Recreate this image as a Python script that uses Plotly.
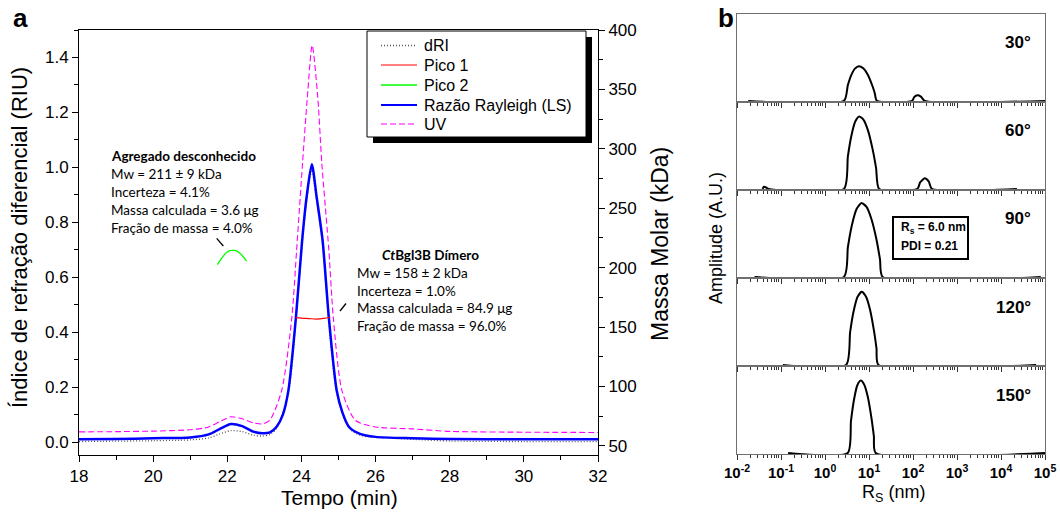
import plotly.graph_objects as go

W, H = 1060, 513
def px(x): return x / W
def py(y): return 1 - y / H

# ---------------- Panel a data ----------------
t_ls = [18.0, 19.0, 20.0, 21.0, 21.5, 21.8, 22.1, 22.4, 22.7, 22.95, 23.15, 23.33, 23.5, 23.65, 23.85,
        24.02, 24.14, 24.28, 24.41, 24.57, 24.74, 24.95, 25.1, 25.28, 25.58, 26.0, 27.0, 28.0, 30.0, 32.0]
ls = [0.010, 0.011, 0.014, 0.017, 0.028, 0.048, 0.066, 0.058, 0.038, 0.032, 0.035, 0.056, 0.10, 0.189, 0.452,
      0.735, 0.892, 1.011, 0.892, 0.735, 0.452, 0.189, 0.11, 0.056, 0.030, 0.019, 0.014, 0.011, 0.010, 0.010]

t_uv = [18.0, 19.0, 20.0, 21.0, 21.5, 21.8, 22.1, 22.4, 22.7, 22.95, 23.15, 23.47, 23.74, 23.87, 24.03,
        24.16, 24.29, 24.44, 24.55, 24.74, 24.86, 25.09, 25.45, 26.0, 27.0, 28.0, 30.0, 32.0]
uv = [0.037, 0.038, 0.040, 0.045, 0.055, 0.075, 0.092, 0.085, 0.070, 0.066, 0.080, 0.189, 0.452, 0.698, 1.015,
      1.256, 1.444, 1.256, 1.015, 0.698, 0.452, 0.189, 0.080, 0.055, 0.048, 0.039, 0.036, 0.035]

t_dri = [18.0, 20.0, 21.0, 21.5, 21.8, 22.1, 22.4, 22.7, 22.95, 23.15, 23.33, 23.65, 23.85, 24.02, 24.14,
         24.28, 24.41, 24.57, 24.74, 24.95, 25.28, 25.58, 25.8, 26.0, 27.0, 28.0, 30.0, 32.0]
dri = [0.002, 0.005, 0.008, 0.015, 0.030, 0.042, 0.038, 0.025, 0.022, 0.028, 0.050, 0.180, 0.440, 0.720, 0.880,
       0.990, 0.880, 0.720, 0.440, 0.180, 0.050, 0.025, 0.019, 0.017, 0.010, 0.004, 0.002, 0.002]

t_p1 = [23.85, 24.0, 24.2, 24.4, 24.6, 24.78]
mw_p1 = [158.0, 157.6, 157.2, 156.8, 157.3, 158.3]

t_p2 = [21.73, 21.85, 21.97, 22.07, 22.15, 22.23, 22.35, 22.45, 22.52]
mw_p2 = [202.5, 208.0, 212.5, 214.3, 214.5, 214.3, 212.0, 208.5, 205.6]

x_ticks_a = [18, 20, 22, 24, 26, 28, 30, 32]
legend_names = ["dRI", "Pico 1", "Pico 2", "Razão Rayleigh (LS)", "UV"]

# ---------------- Panel b data ----------------
angles = ["30°", "60°", "90°", "120°", "150°"]
rs_30 = [0.018, 2.69, 3.31, 3.98, 4.79, 5.89, 7.41, 9.33, 11.7, 13.5, 15.1, 95.5, 107, 126, 151, 186, 100000]
amp_30 = [0, 0, 0.22, 0.36, 0.446, 0.48, 0.45, 0.366, 0.223, 0.11, 0, 0, 0.055, 0.078, 0.06, 0, 0]
rs_60 = [0.038, 0.041, 0.046, 0.052, 2.69, 3.31, 3.98, 4.90, 6.03, 7.59, 9.55, 12.0, 14.5, 17.0,
         126, 145, 186, 229, 269, 23000]
amp_60 = [0, 0.03, 0.02, 0, 0, 0.448, 0.735, 0.934, 1.0, 0.951, 0.802, 0.556, 0.287, 0,
          0, 0.09, 0.146, 0.10, 0, 0]
rs_90 = [0.025, 2.69, 3.31, 4.07, 5.25, 6.76, 8.71, 11.2, 14.5, 17.8, 20.4, 80000]
amp_90 = [0, 0, 0.41, 0.71, 0.94, 1.02, 0.97, 0.81, 0.54, 0.24, 0, 0]
rs_120 = [0.11, 3.02, 3.72, 4.47, 5.50, 6.82, 8.51, 10.5, 12.9, 14.8, 16.4, 63000]
amp_120 = [0, 0, 0.45, 0.74, 0.94, 1.01, 0.946, 0.77, 0.48, 0.23, 0, 0]
rs_150 = [0.145, 3.28, 3.89, 4.57, 5.43, 6.47, 7.76, 9.33, 11.2, 12.9, 14.2, 100000]
amp_150 = [0, 0, 0.439, 0.738, 0.934, 1.0, 0.946, 0.783, 0.509, 0.231, 0, 0]
rs_list = [rs_30, rs_60, rs_90, rs_120, rs_150]
amp_list = [amp_30, amp_60, amp_90, amp_120, amp_150]

major_b = [0.01, 0.1, 1, 10, 100, 1000, 10000, 100000]
major_b_text = ["<b>10<sup>-2</sup></b>", "<b>10<sup>-1</sup></b>", "<b>10<sup>0</sup></b>", "<b>10<sup>1</sup></b>",
                "<b>10<sup>2</sup></b>", "<b>10<sup>3</sup></b>", "<b>10<sup>4</sup></b>", "<b>10<sup>5</sup></b>"]
minor_b = [m * d for d in [0.01, 0.1, 1, 10, 100, 1000, 10000] for m in range(2, 10)]

ARIAL = "Liberation Sans, Arial"
TEX = "Lato, Open Sans"

# styles
st_dri = dict(color="#555555", width=1.3, dash="1px,2px")
st_p1 = dict(color="#FF0000", width=1.2)
st_p2 = dict(color="#00FF00", width=1.3)
st_ls = dict(color="#0000FF", width=2.5)
st_uv = dict(color="#FF00FF", width=1.1, dash="6px,3px")

fig = go.Figure()

# ---- panel a traces
fig.add_trace(go.Scatter(x=t_dri, y=dri, name="dRI", mode="lines", showlegend=False,
                         line=dict(**st_dri, shape="spline", smoothing=0.7), xaxis="x", yaxis="y"))
fig.add_trace(go.Scatter(x=t_uv, y=uv, name="UV", mode="lines", showlegend=False,
                         line=dict(**st_uv, shape="spline", smoothing=0.7), xaxis="x", yaxis="y"))
fig.add_trace(go.Scatter(x=t_ls, y=ls, name="Razão Rayleigh (LS)", mode="lines", showlegend=False,
                         line=dict(**st_ls, shape="spline", smoothing=0.7), xaxis="x", yaxis="y"))
fig.add_trace(go.Scatter(x=t_p1, y=mw_p1, name="Pico 1", mode="lines", showlegend=False,
                         line=dict(**st_p1, shape="spline"), xaxis="x", yaxis="y2"))
fig.add_trace(go.Scatter(x=t_p2, y=mw_p2, name="Pico 2", mode="lines", showlegend=False,
                         line=dict(**st_p2, shape="spline"), xaxis="x", yaxis="y2"))

# ---- panel b traces
for i in range(5):
    fig.add_trace(go.Scatter(x=rs_list[i], y=amp_list[i], mode="lines", showlegend=False, name=angles[i],
                             line=dict(color="black", width=2, shape="spline", smoothing=0.6),
                             xaxis=f"x{i+3}", yaxis=f"y{i+3}"))

layout = dict(
    width=W, height=H, margin=dict(l=0, r=0, t=0, b=0, autoexpand=False),
    paper_bgcolor="white", plot_bgcolor="white", showlegend=False,
    font=dict(family=ARIAL, color="black"),
    xaxis=dict(domain=[px(79), px(598)], range=[18, 32], tickvals=x_ticks_a, ticks="outside", ticklen=6,
               tickcolor="black", showline=True, linecolor="black", linewidth=1, mirror=True,
               minor=dict(dtick=1, tick0=18, ticks="outside", ticklen=4, tickcolor="black"),
               showgrid=False, zeroline=False, tickfont=dict(size=17, family=ARIAL), anchor="y", automargin=False),
    yaxis=dict(domain=[py(455), py(30)], range=[-0.047, 1.5], tick0=0, dtick=0.2, tickformat=".1f",
               ticks="outside", ticklen=6, tickcolor="black", showline=True, linecolor="black", linewidth=1,
               minor=dict(dtick=0.1, tick0=0, ticks="outside", ticklen=4, tickcolor="black"),
               showgrid=False, zeroline=False, tickfont=dict(size=17, family=ARIAL), anchor="x", automargin=False),
    yaxis2=dict(overlaying="y", side="right", range=[42.4, 400], tick0=50, dtick=50,
                ticks="outside", ticklen=6, tickcolor="black", showline=True, linecolor="black", linewidth=1,
                minor=dict(dtick=25, tick0=50, ticks="outside", ticklen=4, tickcolor="black"),
                showgrid=False, zeroline=False, tickfont=dict(size=17, family=ARIAL), anchor="x", automargin=False),
)

yb = [14, 102, 190, 278, 366, 454]
for i in range(5):
    layout[f"xaxis{i+3}"] = dict(domain=[px(737), px(1045)], type="log", range=[-2, 5], anchor=f"y{i+3}",
                                 showline=True, linecolor="#6e6e6e", linewidth=1, mirror=True,
                                 ticks="outside", ticklen=5, tickcolor="#333333", tickvals=major_b,
                                 ticktext=major_b_text, showticklabels=(i == 4), automargin=False,
                                 minor=dict(tickvals=minor_b, ticks="outside", ticklen=3, tickcolor="#333333"),
                                 showgrid=False, zeroline=False, tickfont=dict(size=15, family=ARIAL))
    layout[f"yaxis{i+3}"] = dict(domain=[py(yb[i + 1]), py(yb[i])], range=[-0.015, 1.2], anchor=f"x{i+3}",
                                 showline=True, linecolor="#6e6e6e", linewidth=1, mirror=True, ticks="",
                                 showticklabels=False, showgrid=False, zeroline=False, automargin=False)

fig.update_layout(**layout)

shapes = []
# legend box + shadow
shapes.append(dict(type="rect", xref="paper", yref="paper", x0=px(373), x1=px(592), y0=py(143), y1=py(37),
                   fillcolor="black", line=dict(width=0), layer="above"))
shapes.append(dict(type="rect", xref="paper", yref="paper", x0=px(367), x1=px(586), y0=py(137), y1=py(31),
                   fillcolor="white", line=dict(color="black", width=1), layer="above"))
leg_y = [45.5, 65, 85, 105, 124]
for k, st in enumerate([st_dri, st_p1, st_p2, st_ls, st_uv]):
    lw = dict(st)
    if k == 3:
        lw["width"] = 2.2
    shapes.append(dict(type="line", xref="paper", yref="paper", x0=px(381), x1=px(417), y0=py(leg_y[k]),
                       y1=py(leg_y[k]), line=lw, layer="above"))
# pointer lines
shapes.append(dict(type="line", xref="paper", yref="paper", x0=px(216.7), y0=py(238.3), x1=px(223.3), y1=py(246),
                   line=dict(color="black", width=1.3)))
shapes.append(dict(type="line", xref="paper", yref="paper", x0=px(340), y0=py(311), x1=px(346), y1=py(303.5),
                   line=dict(color="black", width=1.3)))
# Rs box
shapes.append(dict(type="rect", xref="paper", yref="paper", x0=px(893), x1=px(968), y0=py(259), y1=py(217),
                   fillcolor="white", line=dict(color="black", width=2)))
fig.update_layout(shapes=shapes)

ann = []
def A(text, x, y, size, xanchor="center", yanchor="middle", family=ARIAL, angle=0):
    ann.append(dict(text=text, x=px(x), y=py(y), xref="paper", yref="paper", showarrow=False,
                    xanchor=xanchor, yanchor=yanchor, textangle=angle,
                    font=dict(size=size, family=family, color="black")))

A("<b>a</b>", 20, 18, 26)
A("<b>b</b>", 726, 18, 26)
A("Índice de refração diferencial (RIU)", 19, 238, 22, angle=-90)
A("Massa Molar (kDa)", 660, 244, 23, angle=-90)
A("Tempo (min)", 339, 497, 21)
A("Amplitude (A.U.)", 716, 238, 18, angle=-90)
A("R<sub>S</sub> (nm)", 893, 493, 18)

# legend texts
for k, name in enumerate(legend_names):
    A(name, 422, leg_y[k], 16, xanchor="left")

# text blocks
A("<b>Agregado desconhecido</b>", 183, 156, 13.5, family=TEX)
for k, s in enumerate(["Mw = 211 ± 9 kDa", "Incerteza = 4.1%", "Massa calculada = 3.6 μg", "Fração de massa = 4.0%"]):
    A(s, 109, 174 + 18 * k, 13.5, xanchor="left", family=TEX)
A("<b><i>Ct</i>Bgl3B Dímero</b>", 430, 255, 13.5, family=TEX)
for k, s in enumerate(["Mw = 158 ± 2 kDa", "Incerteza = 1.0%", "Massa calculada = 84.9 μg", "Fração de massa = 96.0%"]):
    A(s, 355, 273 + 17.5 * k, 13.5, xanchor="left", family=TEX)

# angle labels
for i, a in enumerate(angles):
    A(f"<b>{a}</b>", 1033, yb[i] + 29, 17, xanchor="right")

A("<b>R<sub>s</sub> = 6.0 nm</b>", 899, 228, 12, xanchor="left")
A("<b>PDI = 0.21</b>", 899, 246, 12, xanchor="left")

fig.update_layout(annotations=ann)
fig.write_html("out.html", config={"displayModeBar": False},
               post_script="document.body.style.margin='0px';")
